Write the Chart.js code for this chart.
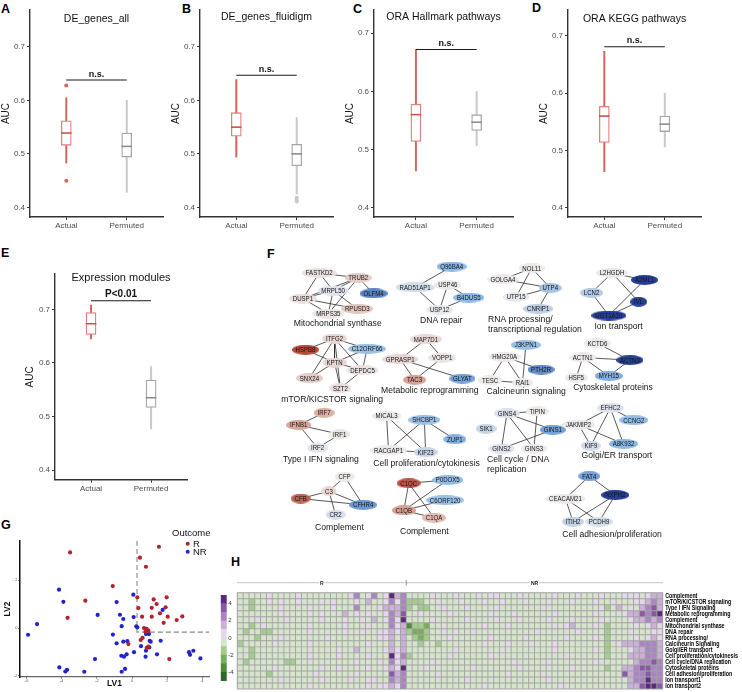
<!DOCTYPE html>
<html>
<head>
<meta charset="utf-8">
<title>Module AUC comparisons, networks and heatmap</title>
<script src="https://cdn.jsdelivr.net/npm/chart.js@4.4.1/dist/chart.umd.min.js"></script>
<style>
  html, body { margin: 0; padding: 0; background: #fff; }
  body { position: relative; width: 742px; height: 692px; overflow: hidden; font-family: 'Liberation Sans', Arial, sans-serif; }
  canvas { position: absolute; }
  .tag { position: absolute; font-weight: bold; font-size: 12.5px; line-height: 12px; color: #000; }
</style>
</head>
<body>
<div class="tag" style="left:1px;top:3px">A</div>
<div class="tag" style="left:182px;top:3px">B</div>
<div class="tag" style="left:353px;top:3px">C</div>
<div class="tag" style="left:532px;top:2px">D</div>
<div class="tag" style="left:1px;top:247px">E</div>
<div class="tag" style="left:267px;top:248px">F</div>
<div class="tag" style="left:1px;top:519px">G</div>
<div class="tag" style="left:231px;top:556px">H</div>

<canvas id="boxA" width="170" height="236" style="left:0;top:0"></canvas>
<canvas id="boxB" width="170" height="236" style="left:170px;top:0"></canvas>
<canvas id="boxC" width="176" height="236" style="left:344px;top:0"></canvas>
<canvas id="boxD" width="170" height="236" style="left:538px;top:0"></canvas>
<canvas id="boxE" width="170" height="235" style="left:24px;top:264px"></canvas>
<canvas id="net" width="502" height="300" style="left:240px;top:250px"></canvas>
<canvas id="lvScatter" width="215" height="159" style="left:0;top:530px"></canvas>
<canvas id="colorBar" width="24" height="96" style="left:214px;top:590px"></canvas>
<canvas id="heat" width="506" height="116" style="left:236px;top:576px"></canvas>

<script>
// ---------- data: AUC boxplots (A-E) ----------
const boxGroups = ['Actual', 'Permuted'];
// per group: [lower whisker, q1, median, q3, upper whisker]
const deAllStats = [[0.483, 0.516, 0.539, 0.562, 0.605], [0.428, 0.494, 0.514, 0.539, 0.600]];
const deAllOutliers = [[0.628, 0.450], []];
const fluidigmStats = [[0.494, 0.533, 0.550, 0.577, 0.639], [0.425, 0.478, 0.500, 0.518, 0.568]];
const fluidigmOutliers = [[], [0.418, 0.414, 0.411]];
const hallmarkStats = [[0.463, 0.514, 0.560, 0.578, 0.672], [0.507, 0.533, 0.547, 0.560, 0.600]];
const keggStats = [[0.463, 0.514, 0.560, 0.577, 0.673], [0.506, 0.533, 0.546, 0.560, 0.600]];
const moduleStats = [[0.645, 0.653, 0.673, 0.694, 0.708], [0.477, 0.517, 0.535, 0.568, 0.593]];
const sigHeights = [0.638, 0.647, 0.672, 0.681, 0.716];
const sigLabels = ['n.s.', 'n.s.', 'n.s.', 'n.s.', 'P<0.01'];
const aucTicks = [0.4, 0.5, 0.6, 0.7];

// ---------- data: module networks (F) ----------
// [gene, layout x, layout y, log fold change]
const netNodes = [
  ['FASTKD2', 75, 17.7, 0.2], ['TRUB2', 115, 22.7, 0.8], ['MRPL50', 89.3, 36, -0.3], ['DUSP1', 58.3, 44.3, 0.3],
  ['OLFM4', 130.7, 39, -2.3], ['RPUSD3', 114, 55, 0.9], ['MRPS35', 84.3, 60, 0.1],
  ['Q96BA4', 210.7, 11, -1.6], ['RAD51AP1', 173.3, 32.7, -0.5], ['USP46', 206.7, 30, 0], ['B4DUS5', 228.3, 43.3, -1.6], ['USP12', 198.3, 56, -0.1],
  ['NOL11', 292.7, 12.7, 0], ['GOLGA4', 263.3, 24.3, 0], ['UTP4', 311.7, 33.3, -1.3], ['UTP15', 276.7, 42.7, -0.1], ['CNRIP1', 299.3, 55, -1.0],
  ['L2HGDH', 375, 17.7, 0], ['A2ML1', 408.3, 25, -3], ['LCN2', 354, 38.3, -1.1], ['IVL', 402.3, 47.7, -3], ['UGT1A10', 371.7, 62, -3],
  ['ITFG2', 90.7, 86, 0.6], ['HSPB8', 61, 97.7, 3], ['C12ORF66', 124, 96.7, -1.4], ['KPTN', 90.7, 111, 0.6],
  ['DEPDC5', 119.3, 119, 0.2], ['SNX24', 65, 127.3, 0.8], ['SZT2', 96.7, 137.7, 0.3],
  ['MAP7D1', 184.3, 86.7, 0.5], ['GPRASP1', 158, 107.5, 0.6], ['VOPP1', 201, 106, 0.1], ['TAC3', 172.7, 129, 1.6], ['GLYAT', 221.7, 127.7, -1.9],
  ['J3KPN1', 286.7, 92.7, -1.4], ['HMG20A', 265, 105, 0], ['PTH2R', 302.3, 118.3, -2.2], ['TESC', 250, 129.5, 0], ['RAI1', 283.3, 132.3, 0],
  ['KCTD6', 360, 91, 0], ['ACTN1', 345, 105.7, 0], ['ACTN3', 393.3, 108.5, -3], ['HSF5', 338.3, 126.7, 0], ['MYH15', 371.7, 125, -1.7],
  ['IRF7', 80, 163.3, 1.3], ['IFNB1', 54, 176, 1.5], ['IRF1', 96, 185.7, 0.1], ['IRF2', 73.3, 200, -0.2],
  ['MICAL3', 144, 166.7, 0], ['SHCBP1', 182.7, 170.7, -1.4], ['ZUP1', 214, 191, -1.7], ['RACGAP1', 146, 202.3, 0], ['KIF23', 184, 204.3, -0.8],
  ['GINS4', 267.3, 164, -0.4], ['TIPIN', 298.3, 161.7, 0], ['SIK1', 246, 180, -0.8], ['GINS1', 314.3, 181, -1.9], ['GINS2', 261.7, 200.7, -0.3], ['GINS3', 295, 200.7, 0],
  ['EFHC2', 373.3, 158.3, -0.3], ['CCNG2', 397.3, 171, -1.5], ['JAKMIP2', 340.7, 175.7, 0], ['KIF9', 353.3, 197.7, -0.6], ['A8K932', 386.7, 195.7, -1.6],
  ['CFP', 101, 230, 0], ['C3', 85, 245, 0.6], ['CFB', 56, 252.7, 2.6], ['CFHR4', 120, 259.3, -2], ['CR2', 91.7, 269.3, -0.5],
  ['C1QC', 166.7, 236.7, 2.8], ['P0DOX5', 206.7, 233.3, -1.5], ['C6ORF120', 204, 254.3, -1.4], ['C1QB', 161.7, 265, 1.6], ['C1QA', 192.7, 272.7, 1.1],
  ['FAT4', 351.7, 229.3, -1.9], ['NXPH2', 378.3, 249, -3], ['CEACAM21', 327.3, 252.7, 0], ['ITIH2', 335, 276.7, -0.9], ['PCDH9', 361.7, 276.7, -0.5]
];
const netEdges = [
  ['FASTKD2', 'TRUB2'], ['FASTKD2', 'DUSP1'], ['FASTKD2', 'MRPL50'], ['TRUB2', 'MRPL50'], ['TRUB2', 'DUSP1'], ['TRUB2', 'OLFM4'],
  ['TRUB2', 'MRPS35'], ['MRPL50', 'DUSP1'], ['MRPL50', 'MRPS35'], ['MRPL50', 'RPUSD3'], ['DUSP1', 'RPUSD3'], ['DUSP1', 'MRPS35'],
  ['Q96BA4', 'RAD51AP1'], ['RAD51AP1', 'USP12'], ['USP46', 'USP12'], ['USP46', 'B4DUS5'], ['USP12', 'B4DUS5'],
  ['NOL11', 'GOLGA4'], ['NOL11', 'UTP15'], ['NOL11', 'UTP4'], ['GOLGA4', 'UTP4'], ['UTP15', 'UTP4'], ['UTP4', 'CNRIP1'],
  ['L2HGDH', 'A2ML1'], ['L2HGDH', 'LCN2'], ['L2HGDH', 'IVL'], ['LCN2', 'UGT1A10'], ['A2ML1', 'UGT1A10'], ['IVL', 'UGT1A10'],
  ['ITFG2', 'HSPB8'], ['ITFG2', 'C12ORF66'], ['ITFG2', 'KPTN'], ['ITFG2', 'SNX24'], ['ITFG2', 'DEPDC5'], ['ITFG2', 'SZT2'],
  ['HSPB8', 'KPTN'], ['C12ORF66', 'KPTN'], ['C12ORF66', 'DEPDC5'], ['KPTN', 'SNX24'], ['KPTN', 'SZT2'], ['KPTN', 'DEPDC5'], ['DEPDC5', 'SZT2'],
  ['MAP7D1', 'GPRASP1'], ['MAP7D1', 'VOPP1'], ['GPRASP1', 'TAC3'], ['GPRASP1', 'GLYAT'], ['VOPP1', 'TAC3'],
  ['J3KPN1', 'RAI1'], ['HMG20A', 'PTH2R'], ['HMG20A', 'TESC'], ['HMG20A', 'RAI1'], ['TESC', 'RAI1'],
  ['KCTD6', 'ACTN3'], ['ACTN1', 'ACTN3'], ['ACTN1', 'HSF5'], ['ACTN1', 'MYH15'], ['MYH15', 'ACTN3'],
  ['IRF7', 'IFNB1'], ['IFNB1', 'IRF1'], ['IFNB1', 'IRF2'], ['IRF2', 'IRF1'],
  ['MICAL3', 'RACGAP1'], ['MICAL3', 'KIF23'], ['SHCBP1', 'RACGAP1'], ['SHCBP1', 'KIF23'], ['SHCBP1', 'ZUP1'], ['RACGAP1', 'KIF23'],
  ['GINS4', 'TIPIN'], ['GINS4', 'GINS1'], ['GINS4', 'GINS2'], ['GINS4', 'GINS3'], ['TIPIN', 'GINS3'], ['GINS2', 'GINS1'],
  ['EFHC2', 'CCNG2'], ['EFHC2', 'JAKMIP2'], ['EFHC2', 'KIF9'], ['EFHC2', 'A8K932'], ['JAKMIP2', 'KIF9'], ['JAKMIP2', 'A8K932'],
  ['CFP', 'C3'], ['CFP', 'CFHR4'], ['C3', 'CFB'], ['C3', 'CR2'], ['CFB', 'CFHR4'], ['C3', 'CFHR4'],
  ['C1QC', 'P0DOX5'], ['C1QC', 'C1QB'], ['C1QC', 'C1QA'], ['C1QB', 'C6ORF120'], ['C1QB', 'C1QA'], ['P0DOX5', 'C1QB'],
  ['FAT4', 'CEACAM21'], ['FAT4', 'NXPH2'], ['CEACAM21', 'ITIH2'], ['CEACAM21', 'PCDH9'], ['NXPH2', 'ITIH2'], ['NXPH2', 'PCDH9']
];
// [module name, layout x, layout y, alignment]
const netModules = [
  ['Mitochondrial synthase', 94, 70.3, 'center'], ['DNA repair', 200, 67.3, 'center'],
  ['RNA processing/', 248, 66, 'left'], ['transcriptional regulation', 248, 76.5, 'left'],
  ['Ion transport', 381.7, 74, 'center'], ['mTOR/KICSTOR signaling', 88.3, 149.3, 'center'],
  ['Metabolic reprogramming', 188.3, 140, 'center'], ['Calcineurin signaling', 287, 141.5, 'center'],
  ['Cytoskeletal proteins', 376, 137.3, 'center'], ['Type I IFN signaling', 76.7, 212.3, 'center'],
  ['Cell proliferation/cytokinesis', 185, 216.7, 'center'], ['Cell cycle / DNA', 247, 212, 'left'],
  ['replication', 247, 222.5, 'left'], ['Golgi/ER transport', 380, 207.7, 'center'],
  ['Complement', 95.7, 282.7, 'center'], ['Complement', 182.7, 286.7, 'center'],
  ['Cell adhesion/proliferation', 375, 290, 'center']
];

// ---------- data: latent variable scatter (G) ----------
const lvResponders = [
  [1.53, 3.41], [0.45, 2.95], [0.79, 2.57], [-3.53, 3.17], [-1.1, 1.76], [-2.66, 1.15], [-3.67, 0.43], [0.3, 1.29],
  [0.36, 0.84], [1.23, 1.2], [1.4, 1.01], [1.97, 1.29], [1.12, 0.85], [1.91, 0.87], [0.57, 0.48], [1.12, 0.48],
  [1.59, 0.62], [2.03, 0.48], [2.86, 0.49], [2.54, 0.34], [1.8, 0.22], [0.68, 0.0], [0.83, -0.03], [0.93, -0.11],
  [0.77, -0.15], [0.6, -0.41], [0.49, -0.5], [-0.21, -0.67], [0.93, -0.78], [0.83, -0.83], [2.12, -1.3]
];
const lvNonResponders = [
  [-4.16, 1.61], [-3.91, 1.1], [-5.92, -0.28], [-5.41, 0.17], [-1.96, 0.55], [-0.88, 1.09], [0.07, 1.4], [0.09, 0.46],
  [-0.69, 0.56], [-0.5, 0.38], [-0.59, 0.08], [0.24, 0.07], [0.3, 0.03], [-1.09, -0.27], [0.79, -0.25], [0.96, -0.25],
  [1.74, 0.76], [-0.88, -0.64], [-0.5, -0.57], [-0.27, -0.55], [-0.46, -1.2], [-0.61, -1.16], [-0.31, -1.1], [0.11, -1.01],
  [0.77, -1.2], [0.51, -0.76], [1.0, -0.53], [1.06, -0.57], [1.63, -0.53], [0.98, -0.81], [0.79, -0.95], [1.42, -1.1],
  [-2.11, -1.3], [3.24, -1.01], [3.3, -1.12], [3.49, -0.95], [3.89, -1.27], [-4.14, -1.65], [-3.7, -1.75], [-3.8, -1.82],
  [-2.72, -1.83], [-0.4, -1.71], [-0.59, -1.83]
];
const lvCut = [0.28, -0.17];
const lv1Range = [-6.38, 4.38];
const lv2Range = [-2.05, 3.65];
const lv1Ticks = [-6, -4, -2, 0, 2, 4];
const lv2Ticks = [-2, 0, 2];

// ---------- data: module score heatmap (H) ----------
// each digit is a score bin: 0 = [-5,-4] ... 9 = [4,5]; first 29 columns R, then 44 NR
const heatRowLabels = ['Complement', 'mTOR/KICSTOR signaling', 'Type I IFN Signaling', 'Metabolic reprogramming',
  'Complement', 'Mitochondrial synthase', 'DNA repair', 'RNA processing/', 'Calcineurin Signaling', 'Golgi/ER transport',
  'Cell proliferation/cytokinesis', 'Cell cycle/DNA replication', 'Cytoskeletal proteins', 'Cell adhesion/proliferation',
  'Ion transport1', 'Ion transport2'];
const heatRows = [
  '4444454444 5444444445 745745967  4444544454 4454554445 4444454445 4445444555 4566',
  '4434454544 5444545444 546445757  3334454445 4445445444 5444544454 4454454445 5676',
  '4434444544 4454445444 744456667  3433445444 5444454444 4445444444 4445346454 6786',
  '4444444544 4454544464 545445768  4454444544 4444544454 4444454444 4454444566 8789',
  '4445444454 4444544454 454645759  4444544444 5444454445 4444544454 4445444456 6767',
  '4434544444 4454444454 445444756  1332445444 4445444544 4444454564 4454344445 4565',
  '4344334444 4454444454 454455656  3223445454 4544444444 4454444445 4444344454 4455',
  '4443444544 4444454444 444455646  4323444544 4444544444 5444444544 4454344445 4565',
  '3444445444 4454444444 445444646  4434434444 4445444544 4544454444 4444345666 7776',
  '4434444444 4444444544 644445656  4444444454 4444445444 4444454444 4454344456 6776',
  '4434444444 4454444544 445444957  3444444544 4444544444 4444444544 4444344466 6776',
  '4344444433 4444444444 544454756  4444544444 4444444454 4444544444 4454444446 7787',
  '4444445444 4444544544 445445659  4445444444 4544444445 4444444454 4444344667 8877',
  '4444434444 4445444444 544444867  4444454444 4444444544 4445444444 4444444867 7877',
  '4444444544 4444544445 445544767  4444444444 5444444444 4444544444 4444444467 7977',
  '4444444444 4454444444 445455657  4444444444 4445444444 4444445444 4444444466 8998'
];
const heatGroups = ['R', 'NR'];
const heatGroupSizes = [29, 44];
const scoreBins = [-5, -4, -3, -2, -1, 0, 1, 2, 3, 4];
const scoreTicks = [-4, -2, 0, 2, 4];

// ---------- shared look ----------
const SANS = "'Liberation Sans', Arial, sans-serif";
Chart.defaults.font.family = SANS;
Chart.defaults.animation = false;
Chart.defaults.plugins.legend.display = false;
Chart.defaults.plugins.tooltip.enabled = false;
const heatPalette = ['#2e6b2a', '#4e8c3d', '#78ad5e', '#a5cc8f', '#d6e4cc', '#e4d8ea', '#cbb0d8', '#a985c2', '#865aa5', '#5c2a7c'];

// text squeezed horizontally, the figure uses a condensed face
function narrowText(ctx, text, x, y, squeeze) {
  ctx.save();
  ctx.translate(x, y);
  ctx.scale(squeeze, 1);
  ctx.fillText(text, 0, 0);
  ctx.restore();
}

// ---------- boxplots ----------
const boxDecor = {
  id: 'boxDecor',
  afterDatasetsDraw(chart, args, o) {
    const { ctx, chartArea, scales: { x, y } } = chart;
    const py = y.getPixelForValue(o.sig);
    const x0 = x.getPixelForValue(1), x1 = x.getPixelForValue(2);
    ctx.save();
    ctx.strokeStyle = '#1a1a1a';
    ctx.lineWidth = 1.1;
    ctx.beginPath(); ctx.moveTo(x0, py); ctx.lineTo(x1, py); ctx.stroke();
    ctx.fillStyle = '#111';
    ctx.textAlign = 'center';
    ctx.textBaseline = 'bottom';
    ctx.font = `bold ${o.sigSize}px ${SANS}`;
    ctx.fillText(o.label, (x0 + x1) / 2, py - 1.5);
    ctx.textBaseline = 'middle';
    ctx.font = `${o.titleSize}px ${SANS}`;
    ctx.fillText(o.title, (chartArea.left + chartArea.right) / 2, chartArea.top + o.titleDy);
    ctx.restore();
  }
};

function makeBox(id, stats, outliers, idx, title, opt) {
  const boxCol = ['#e07f7b', '#a6a6a6'];
  const whiskCol = ['#d9625d', '#c8c8c8'];
  const medCol = ['#cc524d', '#8c8c8c'];
  const pts = [];
  outliers.forEach((list, g) => list.forEach(v => pts.push({ x: g + 1, y: v })));
  const axisGrid = { drawOnChartArea: false, tickLength: 3, color: '#333', lineWidth: 1, offset: false };
  const axisBorder = { color: '#333', width: 1.4 };
  new Chart(document.getElementById(id), {
    type: 'bar',
    data: {
      datasets: [
        { type: 'scatter', data: stats.map((s, g) => ({ x: g + 1, y: s[2] })), pointStyle: 'line',
          pointRadius: 5.3, pointBorderWidth: 1.6, pointBorderColor: medCol, order: 0 },
        { type: 'scatter', data: pts, pointRadius: 2, pointBorderWidth: 0,
          pointBackgroundColor: pts.map(p => whiskCol[p.x - 1]), order: 0 },
        { type: 'bar', data: stats.map((s, g) => ({ x: g + 1, y: [s[1], s[3]] })), grouped: false,
          backgroundColor: '#fff', borderColor: boxCol, borderWidth: 1.3, borderSkipped: false, barThickness: 10, order: 1 },
        { type: 'bar', data: stats.map((s, g) => ({ x: g + 1, y: [s[0], s[4]] })), grouped: false,
          backgroundColor: whiskCol, borderWidth: 0, barThickness: 1.3, order: 2 }
      ]
    },
    options: {
      responsive: false,
      layout: { padding: { top: opt.top, right: opt.right, left: 0, bottom: 0 } },
      scales: {
        x: {
          type: 'linear', offset: false, min: opt.xMin, max: 2.6,
          afterBuildTicks: s => { s.ticks = boxGroups.map((_, g) => ({ value: g + 1 })); },
          afterFit: s => { s.height = opt.xH; },
          ticks: { callback: v => boxGroups[v - 1], font: { size: 8 }, color: '#4d4d4d', padding: 1, maxRotation: 0, autoSkip: false },
          grid: axisGrid, border: axisBorder
        },
        y: {
          min: opt.yMin, max: opt.yMax,
          afterBuildTicks: s => { s.ticks = aucTicks.map(v => ({ value: v })); },
          afterFit: s => { s.width = opt.yW; },
          ticks: { callback: v => v.toFixed(1), font: { size: 8 }, color: '#4d4d4d', padding: 2, autoSkip: false },
          title: { display: true, text: 'AUC', font: { size: 10 }, color: '#1a1a1a', padding: 0 },
          grid: axisGrid, border: axisBorder
        }
      },
      plugins: {
        boxDecor: { sig: sigHeights[idx], label: sigLabels[idx], sigSize: opt.sigSize, title: title,
          titleSize: opt.titleSize, titleDy: opt.titleDy }
      }
    },
    plugins: [boxDecor]
  });
}

makeBox('boxA', deAllStats, deAllOutliers, 0, 'DE_genes_all',
  { top: 10, right: 7, yW: 30, xH: 19, yMin: 0.382, yMax: 0.769, xMin: 0.4, titleDy: 9.5, titleSize: 10.5, sigSize: 9 });
makeBox('boxB', fluidigmStats, fluidigmOutliers, 1, 'DE_genes_fluidigm',
  { top: 10, right: 7, yW: 30, xH: 19, yMin: 0.382, yMax: 0.769, xMin: 0.4, titleDy: 7, titleSize: 10.5, sigSize: 9 });
makeBox('boxC', hallmarkStats, [[], []], 2, 'ORA Hallmark pathways',
  { top: 10, right: 6, yW: 30, xH: 19, yMin: 0.384, yMax: 0.740, xMin: 0.31, titleDy: 7, titleSize: 10.5, sigSize: 9 });
makeBox('boxD', keggStats, [[], []], 3, 'ORA KEGG pathways',
  { top: 10, right: 6, yW: 30, xH: 19, yMin: 0.384, yMax: 0.745, xMin: 0.4, titleDy: 9, titleSize: 10.5, sigSize: 9 });
makeBox('boxE', moduleStats, [[], []], 4, 'Expression modules',
  { top: 10, right: 6, yW: 31, xH: 19.3, yMin: 0.382, yMax: 0.766, xMin: 0.4, titleDy: 3.5, titleSize: 11, sigSize: 10 });

// ---------- module networks ----------
function nodeColor(v) {
  const stops = v >= 0
    ? [[0, [236, 233, 233]], [0.7, [230, 210, 206]], [1.6, [216, 160, 146]], [3, [178, 74, 56]]]
    : [[0, [236, 236, 239]], [1, [190, 207, 230]], [1.6, [138, 184, 230]], [2.3, [90, 130, 194]], [3, [38, 63, 146]]];
  const a = Math.abs(v);
  for (let i = 1; i < stops.length; i++) {
    if (a <= stops[i][0] || i === stops.length - 1) {
      const t = Math.min(1, (a - stops[i - 1][0]) / (stops[i][0] - stops[i - 1][0]));
      return 'rgb(' + stops[i - 1][1].map((c, j) => Math.round(c + (stops[i][1][j] - c) * t)).join(',') + ')';
    }
  }
}
const nodeFont = `7.6px ${SANS}`;
const nodeSqueeze = 0.8;
const measure = document.createElement('canvas').getContext('2d');
measure.font = nodeFont;
function ellipseImage(name, v) {
  const c = document.createElement('canvas');
  c.width = Math.ceil(measure.measureText(name).width * nodeSqueeze + 7);
  c.height = 10;
  const g = c.getContext('2d');
  g.fillStyle = nodeColor(v);
  g.beginPath();
  g.ellipse(c.width / 2, c.height / 2, c.width / 2, c.height / 2, 0, 0, Math.PI * 2);
  g.fill();
  return c;
}
const nodeIndex = {};
netNodes.forEach(n => { nodeIndex[n[0]] = { x: n[1], y: n[2] }; });

const netText = {
  id: 'netText',
  afterDatasetsDraw(chart) {
    const { ctx, scales: { x, y } } = chart;
    ctx.save();
    ctx.fillStyle = '#151515';
    ctx.textBaseline = 'middle';
    ctx.textAlign = 'center';
    ctx.font = nodeFont;
    netNodes.forEach(n => narrowText(ctx, n[0], x.getPixelForValue(n[1]), y.getPixelForValue(n[2]) + 0.3, nodeSqueeze));
    ctx.font = `8.6px ${SANS}`;
    netModules.forEach(m => {
      ctx.textAlign = m[3];
      ctx.fillText(m[0], x.getPixelForValue(m[1]), y.getPixelForValue(m[2]));
    });
    ctx.restore();
  }
};

new Chart(document.getElementById('net'), {
  type: 'scatter',
  data: {
    datasets: [
      { data: netNodes.map(n => ({ x: n[1], y: n[2] })), pointStyle: netNodes.map(n => ellipseImage(n[0], n[3])),
        pointRadius: 5, order: 0 }
    ].concat(netEdges.map(e => ({
      type: 'line', data: [nodeIndex[e[0]], nodeIndex[e[1]]], borderColor: '#2e2e2e', borderWidth: 0.8,
      pointRadius: 0, fill: false, order: 1
    })))
  },
  options: {
    responsive: false,
    layout: { padding: 0 },
    scales: {
      x: { type: 'linear', display: false, min: 0, max: 502 },
      y: { type: 'linear', display: false, min: 0, max: 300, reverse: true }
    }
  },
  plugins: [netText]
});

// ---------- LV scatter ----------
const lvLegend = {
  id: 'lvLegend',
  afterDraw(chart) {
    const { ctx } = chart;
    ctx.save();
    ctx.fillStyle = '#111';
    ctx.textBaseline = 'middle';
    ctx.font = `9.5px ${SANS}`;
    ctx.fillText('Outcome', 172, 3.5);
    chart.data.datasets.slice(0, 2).forEach((ds, i) => {
      const yy = 13.7 + i * 8;
      ctx.fillStyle = ds.backgroundColor;
      ctx.beginPath(); ctx.arc(187.7, yy, 2, 0, Math.PI * 2); ctx.fill();
      ctx.fillStyle = '#111';
      ctx.fillText(ds.label, 193, yy + 0.5);
    });
    ctx.restore();
  }
};
new Chart(document.getElementById('lvScatter'), {
  type: 'scatter',
  data: {
    datasets: [
      { label: 'R', data: lvResponders.map(p => ({ x: p[0], y: p[1] })), backgroundColor: '#b1222b',
        pointRadius: 2.1, pointBorderWidth: 0, order: 0 },
      { label: 'NR', data: lvNonResponders.map(p => ({ x: p[0], y: p[1] })), backgroundColor: '#2323cc',
        pointRadius: 2.1, pointBorderWidth: 0, order: 0 },
      { type: 'line', label: 'cutoff', data: [{ x: lvCut[0], y: lv2Range[1] }, { x: lvCut[0], y: lvCut[1] }, { x: lv1Range[1], y: lvCut[1] }],
        borderColor: '#8a8a8a', borderWidth: 1.1, borderDash: [5, 3], pointRadius: 0, fill: false, order: 1 }
    ]
  },
  options: {
    responsive: false,
    layout: { padding: { left: 3, top: 11, right: 6, bottom: 0 } },
    scales: {
      x: {
        min: lv1Range[0], max: lv1Range[1],
        afterBuildTicks: s => { s.ticks = lv1Ticks.map(v => ({ value: v })); },
        afterFit: s => { s.height = 12; },
        ticks: { font: { size: 4 }, color: '#555', padding: 0, autoSkip: false, maxRotation: 0 },
        title: { display: true, text: 'LV1', font: { size: 8.5, weight: 'bold' }, color: '#111', padding: 0 },
        grid: { drawOnChartArea: false, tickLength: 1.5, color: '#666' },
        border: { color: '#666', width: 1.2 }
      },
      y: {
        min: lv2Range[0], max: lv2Range[1],
        afterBuildTicks: s => { s.ticks = lv2Ticks.map(v => ({ value: v })); },
        afterFit: s => { s.width = 17; },
        ticks: { font: { size: 4 }, color: '#555', padding: 1, autoSkip: false },
        title: { display: true, text: 'LV2', font: { size: 8.5, weight: 'bold' }, color: '#111', padding: 0 },
        grid: { drawOnChartArea: false, tickLength: 1.5, color: '#111' },
        border: { color: '#111', width: 1.5 }
      }
    }
  },
  plugins: [lvLegend]
});

// ---------- colour key ----------
new Chart(document.getElementById('colorBar'), {
  type: 'bar',
  data: {
    labels: [''],
    datasets: scoreBins.map((b, i) => ({
      data: [[b, b + 1]], backgroundColor: heatPalette[i], borderWidth: 0, grouped: false,
      barPercentage: 1, categoryPercentage: 1
    }))
  },
  options: {
    responsive: false,
    layout: { padding: { left: 6.7, top: 5, bottom: 4.3, right: 0 } },
    scales: {
      x: { display: false },
      y: {
        position: 'right', min: scoreBins[0], max: scoreBins[scoreBins.length - 1] + 1,
        afterBuildTicks: s => { s.ticks = scoreTicks.map(v => ({ value: v })); },
        afterFit: s => { s.width = 11.3; },
        ticks: { font: { size: 6 }, color: '#333', padding: 1.5, autoSkip: false },
        grid: { display: false, drawTicks: false }, border: { display: false }
      }
    }
  }
});

// ---------- heatmap ----------
const heatMatrix = heatRows.map(r => r.replace(/ /g, '').split('').map(Number));
const nCols = heatMatrix[0].length;
const nRows = heatMatrix.length;
const cellInset = 0.08;

const heatDecor = {
  id: 'heatDecor',
  beforeDatasetsDraw(chart) {
    const { ctx, chartArea } = chart;
    ctx.save();
    ctx.fillStyle = '#a3a3a3';
    ctx.fillRect(chartArea.left - 0.5, chartArea.top - 0.5, chartArea.right - chartArea.left + 1, chartArea.bottom - chartArea.top + 1);
    ctx.restore();
  },
  afterDraw(chart) {
    const { ctx, chartArea, scales: { x, y } } = chart;
    const colW = (chartArea.right - chartArea.left) / nCols;
    const yy = chartArea.top - 10;
    ctx.save();
    // row labels from the y scale ticks
    ctx.fillStyle = '#000';
    ctx.font = `bold 7.6px ${SANS}`;
    ctx.textAlign = 'left';
    ctx.textBaseline = 'middle';
    y.ticks.forEach(t => narrowText(ctx, heatRowLabels[Math.round(nRows - 0.5 - t.value)], chartArea.right + 2.5, y.getPixelForValue(t.value) + 0.3, 0.7));
    // group bar R / NR
    ctx.strokeStyle = '#555';
    ctx.lineWidth = 0.6;
    ctx.setLineDash([1.2, 0.8]);
    ctx.beginPath(); ctx.moveTo(chartArea.left, yy); ctx.lineTo(chartArea.right, yy); ctx.stroke();
    ctx.setLineDash([]);
    ctx.font = `bold 5px ${SANS}`;
    ctx.textAlign = 'center';
    let start = 0;
    heatGroups.forEach((g, i) => {
      const left = x.getPixelForValue(start) - colW / 2;
      const right = x.getPixelForValue(start + heatGroupSizes[i] - 1) + colW / 2;
      const cx = (left + right) / 2;
      const w = ctx.measureText(g).width + 2;
      ctx.fillStyle = '#fff';
      ctx.fillRect(cx - w / 2, yy - 3, w, 6);
      ctx.fillStyle = '#222';
      ctx.fillText(g, cx, yy + 0.5);
      if (i > 0) {
        ctx.beginPath(); ctx.moveTo(left, yy - 3); ctx.lineTo(left, yy + 3); ctx.stroke();
      }
      start += heatGroupSizes[i];
    });
    ctx.restore();
  }
};

new Chart(document.getElementById('heat'), {
  type: 'bar',
  data: {
    labels: heatMatrix[0].map((_, c) => String(c + 1)),
    datasets: heatMatrix.map((row, r) => ({
      data: row.map(() => [nRows - 1 - r + cellInset, nRows - r - cellInset]),
      backgroundColor: row.map(d => heatPalette[d]),
      borderWidth: 0, grouped: false, barPercentage: 0.84, categoryPercentage: 1, inflateAmount: 0
    }))
  },
  options: {
    responsive: false,
    layout: { padding: { left: 1.3, top: 16.7, bottom: 3, right: 0 } },
    scales: {
      x: { display: false },
      y: {
        position: 'right', min: 0, max: nRows,
        afterBuildTicks: s => { s.ticks = heatRowLabels.map((_, i) => ({ value: nRows - 0.5 - i })); },
        afterFit: s => { s.width = 79.3; },
        ticks: { display: false, autoSkip: false },
        grid: { display: false, drawTicks: false }, border: { display: false }
      }
    }
  },
  plugins: [heatDecor]
});
</script>
</body>
</html>
